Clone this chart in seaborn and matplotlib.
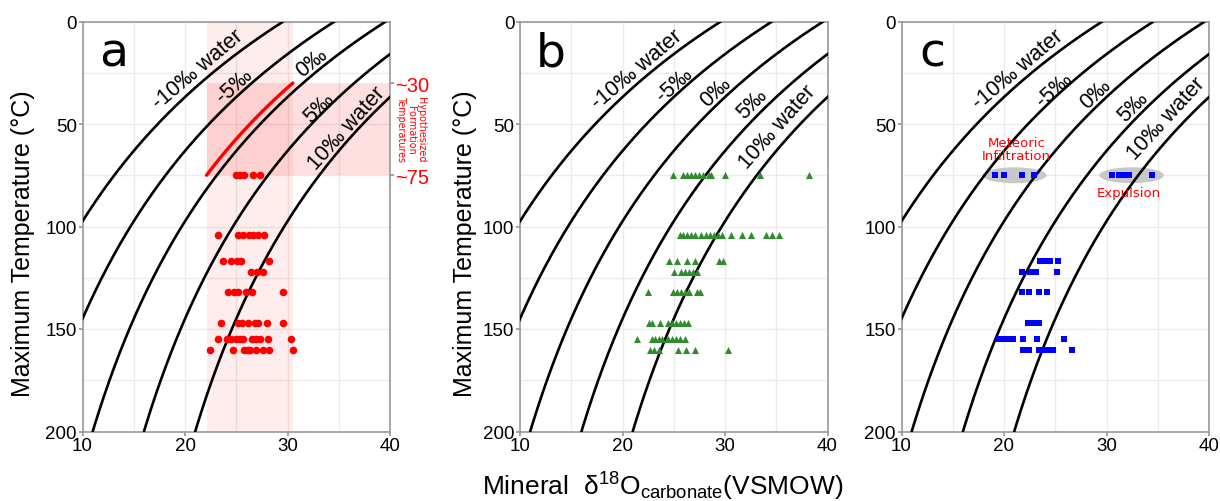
import numpy as np
import pandas as pd
import matplotlib
matplotlib.use("Agg")
import matplotlib.pyplot as plt
from matplotlib.patches import Ellipse
from matplotlib.ticker import MultipleLocator
import seaborn as sns

# dolomite-water fractionation, 1000 ln a = A / T^2 + B (T in K)
FRAC_A = 3.2e6
FRAC_B = -3.3
WATER_D18O = [-10, -5, 0, 5, 10]
CURVE_LABELS = ["-10‰ water", "-5‰", "0‰", "5‰", "10‰ water"]
SEAWATER_D18O = -1
FORMATION_TEMPS = [30, 75]

# where each curve label sits (d18O, T) in every panel
LABELS_A = [(21.3, 23), (24.8, 31), (32.4, 20), (33.1, 42), (35.8, 52)]
LABELS_B = [(21.4, 23), (25.1, 30.5), (29.1, 34), (32.6, 40), (35.1, 51)]
LABELS_C = [(21.4, 23), (24.9, 32.8), (28.9, 35), (32.6, 41.5), (35.8, 47)]

# panel a - red dots, one list per temperature row
A_TEMPS = [75, 104, 117, 122, 132, 147, 155, 160]
A_D18O = [
    [25.0, 25.4, 25.8, 26.6, 27.3],
    [23.2, 25.2, 25.7, 26.2, 26.6, 27.1, 27.7],
    [23.7, 24.5, 25.1, 25.5, 28.2],
    [26.4, 27.0, 27.6],
    [24.2, 24.8, 25.2, 26.0, 26.5, 29.6],
    [23.5, 25.2, 25.6, 26.1, 26.8, 27.1, 28.0, 29.6],
    [23.2, 24.1, 24.5, 25.0, 25.4, 25.7, 26.5, 26.9, 27.3, 28.1, 30.3],
    [22.4, 24.7, 25.8, 26.1, 26.3, 26.9, 27.6, 28.2, 30.5],
]

# panel b - green triangles
B_TEMPS = [75, 104, 117, 122, 132, 147, 155, 160]
B_D18O = [
    [24.9, 25.9, 26.3, 26.7, 27.1, 27.5, 27.9, 28.4, 28.6, 30.0, 33.4, 38.2],
    [25.6, 25.9, 26.3, 26.7, 27.1, 27.7, 28.1, 28.5, 28.9, 29.3, 29.7,
     30.6, 31.7, 32.5, 34.0, 34.6, 35.3],
    [24.5, 25.3, 26.3, 27.1, 29.4, 29.8],
    [25.0, 25.7, 26.1, 26.5, 26.9, 27.3],
    [22.5, 24.9, 25.3, 25.7, 26.1, 26.5, 27.3, 27.6],
    [22.6, 22.9, 23.7, 24.4, 24.8, 25.2, 25.6, 26.0, 26.4],
    [21.4, 22.9, 23.2, 23.6, 23.9, 24.4, 24.8, 25.2, 25.6, 26.1],
    [22.7, 23.1, 23.6, 25.4, 26.2, 27.1, 30.3],
]

# panel c - blue squares
C_GROUP_TEMP = 75
METEORIC_D18O = [19.1, 20.0, 21.75, 22.95]
EXPULSION_D18O = [30.5, 31.2, 31.8, 32.2, 34.4]
C_TEMPS = [117, 122, 132, 147, 155, 160]
C_D18O = [
    [23.5, 24.0, 24.5, 25.3],
    [21.8, 22.5, 23.1, 25.2],
    [21.8, 22.4, 23.4, 24.2],
    [22.3, 22.9, 23.4],
    [19.4, 19.9, 20.3, 20.9, 21.9, 23.2, 25.9],
    [21.9, 22.4, 23.4, 23.9, 24.4, 24.8, 26.6],
]

TEMP_GRID = np.linspace(0, 200, 401)


def carb(water, temp):
    tk = np.asarray(temp, dtype=float) + 273.15
    return water + FRAC_A / tk ** 2 + FRAC_B


def temp_at(water, d18o):
    return np.sqrt(FRAC_A / (d18o - water - FRAC_B)) - 273.15


def rows_to_df(temps, rows):
    return pd.DataFrame({
        "T": [t for t, r in zip(temps, rows) for _ in r],
        "d18O": [v for r in rows for v in r],
    })


sns.set_theme(style="whitegrid", rc={"text.color": "black", "axes.labelcolor": "black",
                                     "xtick.color": "black", "ytick.color": "black"})
plt.rcParams["font.family"] = ["Liberation Sans", "DejaVu Sans"]
plt.rcParams["mathtext.default"] = "regular"

fig = plt.figure(figsize=(12.2, 5.02), dpi=100)
W, H = 1220, 502
bottom, height = (H - 432.5) / H, 410 / H
axes = [fig.add_axes([l / W, bottom, 307.5 / W, height]) for l in (82.5, 520, 901.5)]


def setup(ax, letter, label_pos):
    ax.set_xlim(10, 40)
    ax.set_ylim(200, 0)
    ax.set_xticks([10, 20, 30, 40])
    ax.set_yticks([0, 50, 100, 150, 200])
    ax.xaxis.set_minor_locator(MultipleLocator(5))
    ax.yaxis.set_minor_locator(MultipleLocator(25))
    ax.grid(which="both", color="#ebebeb", linewidth=1)
    ax.tick_params(which="minor", length=0)
    ax.tick_params(which="major", length=3, color="#999999", labelcolor="black",
                   labelsize=13.5, pad=1, left=True, bottom=True)
    for s in ax.spines.values():
        s.set_color("#999999")
        s.set_linewidth(1.2)

    for w in WATER_D18O:
        sns.lineplot(x=carb(w, TEMP_GRID), y=TEMP_GRID, sort=False, estimator=None,
                     color="black", linewidth=1.9, ax=ax, zorder=3)

    for w, txt, (lx, lt) in zip(WATER_D18O, CURVE_LABELS, label_pos):
        tc = 0.5 * (lt + temp_at(w, lx))
        p1 = ax.transData.transform((carb(w, tc + 2), tc + 2))
        p2 = ax.transData.transform((carb(w, tc - 2), tc - 2))
        ang = np.degrees(np.arctan2(p2[1] - p1[1], p2[0] - p1[0]))
        ax.text(lx, lt, txt, rotation=ang, rotation_mode="anchor", ha="center",
                va="center", fontsize=15.5, color="black", zorder=4)

    ax.text(13, 21.5, letter, fontsize=34, family="DejaVu Sans", color="black",
            ha="center", va="baseline", zorder=4)


for ax, letter, lab in zip(axes, "abc", (LABELS_A, LABELS_B, LABELS_C)):
    setup(ax, letter, lab)

# ---- panel a
ax = axes[0]
x_lo = float(carb(SEAWATER_D18O, FORMATION_TEMPS[1]))
x_hi = float(carb(SEAWATER_D18O, FORMATION_TEMPS[0]))
ax.axvspan(x_lo, x_hi, color="red", alpha=0.07, linewidth=0, zorder=1)
ax.fill_between([x_lo, 40], FORMATION_TEMPS[0], FORMATION_TEMPS[1], color="red",
                alpha=0.12, linewidth=0, zorder=1)
t_red = np.linspace(FORMATION_TEMPS[0], FORMATION_TEMPS[1], 60)
sns.lineplot(x=carb(SEAWATER_D18O, t_red), y=t_red, sort=False, estimator=None,
             color="red", linewidth=2.4, ax=ax, zorder=5)
sns.scatterplot(data=rows_to_df(A_TEMPS, A_D18O), x="d18O", y="T", color="red",
                marker="o", s=30, linewidth=0, ax=ax, zorder=6)

ax2 = ax.twinx()
ax2.set_position(ax.get_position())
ax2.set_ylim(200, 0)
ax2.grid(False)
ax2.set_yticks(FORMATION_TEMPS, [f"~{t}" for t in FORMATION_TEMPS])
ax2.tick_params(axis="y", right=True, length=3, color="#999999", labelcolor="red",
                labelsize=14.5, pad=1)
for s in ax2.spines.values():
    s.set_visible(False)
ax.text(42.05, 52.5, "Hypothesized\nFormation\nTemperatures", rotation=-90,
        ha="center", va="center", color="red", fontsize=6.9, family="DejaVu Sans",
        linespacing=1.0, clip_on=False)

# ---- panel b
sns.scatterplot(data=rows_to_df(B_TEMPS, B_D18O), x="d18O", y="T",
                color="#2e8b2e", marker="^", s=26, linewidth=0, ax=axes[1], zorder=6)

# ---- panel c
ax = axes[2]
for grp in (METEORIC_D18O, EXPULSION_D18O):
    ax.add_patch(Ellipse(((min(grp) + max(grp)) / 2, C_GROUP_TEMP),
                         max(grp) - min(grp) + 2.4, 7.8, facecolor="#c8c8c8",
                         edgecolor="none", zorder=2))
c_df = pd.concat([rows_to_df([C_GROUP_TEMP], [METEORIC_D18O + EXPULSION_D18O]),
                  rows_to_df(C_TEMPS, C_D18O)])
sns.scatterplot(data=c_df, x="d18O", y="T", color="blue", marker="s", s=14,
                linewidth=0, ax=ax, zorder=6)
ax.text(21.2, 62.3, "Meteoric\nInfiltration", color="red", fontsize=9.5,
        family="DejaVu Sans", ha="center", va="center", linespacing=1.0, zorder=7)
ax.text(32.2, 83.4, "Expulsion", color="red", fontsize=9.5, family="DejaVu Sans",
        ha="center", va="center", zorder=7)

for ax in axes:
    ax.set_xlabel("")
    ax.set_ylabel("")
    ax.set_xlim(10, 40)
    ax.set_ylim(200, 0)

fig.text(23.5 / W, 1 - 244 / H, "Maximum Temperature (°C)", rotation=90,
         ha="center", va="center", fontsize=18, color="black")
fig.text(465 / W, 1 - 244 / H, "Maximum Temperature (°C)", rotation=90,
         ha="center", va="center", fontsize=18, color="black")
fig.text(663 / W, 1 - 487 / H, "Mineral  δ$^{18}$O$_{carbonate}$(VSMOW)",
         ha="center", va="center", fontsize=19, color="black")

fig.savefig("out.png", dpi=100)
